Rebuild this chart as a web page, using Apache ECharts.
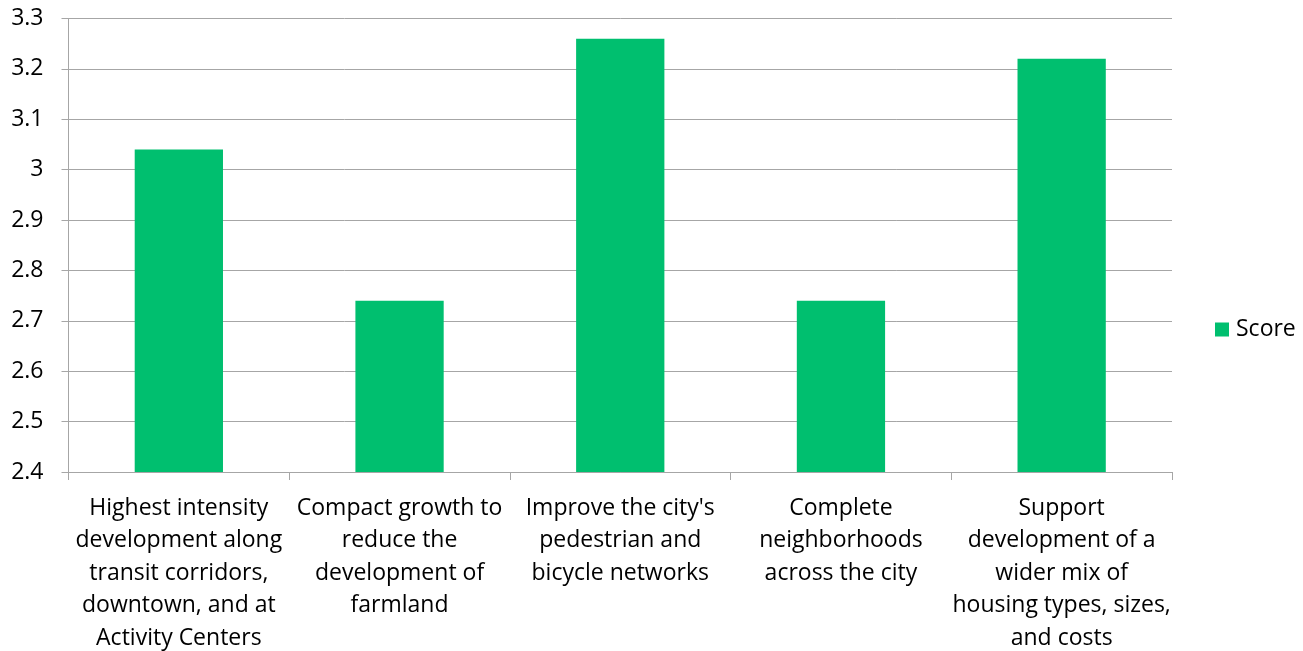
<!DOCTYPE html>
<html><head><meta charset="utf-8">
<script src="https://cdn.jsdelivr.net/npm/echarts@6/dist/echarts.min.js"></script>
<style>html,body{margin:0;padding:0;background:#fff}#c{width:1303px;height:651px}</style>
</head><body><div id="c"></div>
<script>
const categories = [
  "Highest intensity\ndevelopment along\ntransit corridors,\ndowntown, and at\nActivity Centers",
  "Compact growth to\nreduce the\ndevelopment of\nfarmland",
  "Improve the city's\npedestrian and\nbicycle networks",
  "Complete\nneighborhoods\nacross the city",
  "Support\ndevelopment of a\nwider mix of\nhousing types, sizes,\nand costs"
];
const scoreValues = [3.04, 2.74, 3.26, 2.74, 3.22];
const seriesName = "Score";

const chart = echarts.init(document.getElementById('c'));
const font = '"Open Sans", Lato, sans-serif';
chart.setOption({
  animation: false,
  grid: {left: 68.5, right: 131, top: 18.5, bottom: 179, containLabel: false, outerBoundsMode: 'none'},
  legend: {
    data: [seriesName], left: 1210, top: 313, orient: 'vertical',
    itemWidth: 14, itemHeight: 14, icon: 'rect', itemGap: 6,
    textStyle: {fontFamily: font, fontSize: 23, color: '#000', padding: [0, 0, 0, 2]}
  },
  xAxis: {
    type: 'category', data: categories,
    axisLine: {lineStyle: {color: '#A6A6A6', width: 1}},
    axisTick: {show: true, length: 8, lineStyle: {color: '#A6A6A6'}},
    axisLabel: {interval: 0, margin: 20, fontFamily: font, fontSize: 23, color: '#000', lineHeight: 32.5, align: 'center'}
  },
  yAxis: {
    type: 'value', min: 2.4, max: 3.3, interval: 0.1,
    axisLine: {show: true, lineStyle: {color: '#A6A6A6'}},
    axisTick: {show: true, length: 7, lineStyle: {color: '#A6A6A6'}},
    splitLine: {lineStyle: {color: '#A6A6A6', width: 1}},
    axisLabel: {margin: 25, fontFamily: font, fontSize: 23, color: '#000',
      formatter: v => String(Math.round(v * 10) / 10)}
  },
  series: [{
    name: seriesName, type: 'bar', data: scoreValues, barWidth: '40%',
    itemStyle: {color: '#00BF6F'}
  }]
});
</script></body></html>
